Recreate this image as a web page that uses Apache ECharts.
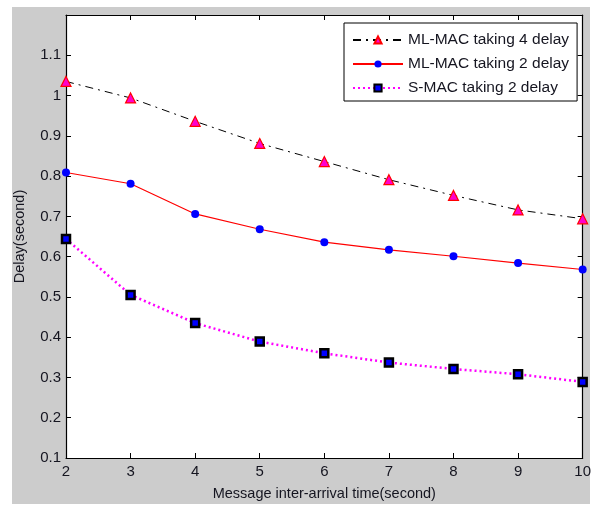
<!DOCTYPE html>
<html><head><meta charset="utf-8">
<script src="https://cdn.jsdelivr.net/npm/echarts@6/dist/echarts.min.js"></script>
<style>html,body{margin:0;padding:0;background:#fff}#c{width:594px;height:506px}</style>
</head><body><div id="c"></div>
<script>
const xValues = [2, 3, 4, 5, 6, 7, 8, 9, 10];
const mlmac4 = [1.035, 0.994, 0.936, 0.881, 0.836, 0.791, 0.752, 0.716, 0.694];
const mlmac2 = [0.809, 0.781, 0.706, 0.668, 0.636, 0.617, 0.601, 0.584, 0.568];
const smac2 = [0.644, 0.505, 0.435, 0.389, 0.36, 0.337, 0.321, 0.308, 0.289];
const seriesNames = ['ML-MAC taking 4 delay', 'ML-MAC taking 2 delay', 'S-MAC taking 2 delay'];
const xTitle = 'Message inter-arrival time(second)';
const yTitle = 'Delay(second)';

const pairs = a => xValues.map((x, i) => [x, a[i]]);
const font = 'Arial, "Liberation Sans", sans-serif';
const txt = '#151520';
const chart = echarts.init(document.getElementById('c'), null, {renderer: 'canvas'});
const baseAxis = {
  axisLine: {show: true, onZero: false, lineStyle: {color: '#000', width: 1.2}},
  axisTick: {show: true, inside: true, length: 5, lineStyle: {color: '#000'}},
  splitLine: {show: false}
};
chart.setOption({
  animation: false,
  backgroundColor: '#fff',
  graphic: [{type: 'rect', z: -10, shape: {x: 12, y: 7, width: 578, height: 497}, style: {fill: '#cccccc'}}],
  grid: {left: 66, right: 11, top: 15, bottom: 47, show: true, backgroundColor: '#fff', borderWidth: 0},
  legend: {
    orient: 'vertical', left: 344, top: 23, width: 231,
    backgroundColor: '#fff', borderColor: '#000', borderWidth: 1,
    padding: [9, 8, 5, 8], itemGap: 8, itemWidth: 50, itemHeight: 9,
    textStyle: {fontFamily: font, fontSize: 15.5, color: txt},
    data: seriesNames
  },
  xAxis: [
    Object.assign({}, baseAxis, {
      type: 'value', min: 2, max: 10, interval: 1, position: 'bottom',
      name: xTitle, nameLocation: 'middle', nameGap: 28,
      nameTextStyle: {fontFamily: font, fontSize: 14.5, color: txt},
      axisLabel: {fontFamily: font, fontSize: 15, color: txt, margin: 6}
    }),
    Object.assign({}, baseAxis, {
      type: 'value', min: 2, max: 10, interval: 1, position: 'top',
      axisLabel: {show: false}
    })
  ],
  yAxis: [
    Object.assign({}, baseAxis, {
      type: 'value', min: 0.1, max: 1.2, interval: 0.1, position: 'left',
      name: yTitle, nameLocation: 'middle', nameGap: 39,
      nameTextStyle: {fontFamily: font, fontSize: 14.5, color: txt},
      axisLabel: {fontFamily: font, fontSize: 15, color: txt, margin: 5,
        formatter: v => v > 1.15 ? '' : String(Math.round(v * 10) / 10)}
    }),
    Object.assign({}, baseAxis, {
      type: 'value', min: 0.1, max: 1.2, interval: 0.1, position: 'right',
      axisLabel: {show: false}
    })
  ],
  series: [
    {
      name: seriesNames[0], type: 'line', data: pairs(mlmac4),
      symbol: 'triangle', symbolSize: 10,
      itemStyle: {color: '#ff00cc', borderColor: '#ff0000', borderWidth: 1.2},
      lineStyle: {color: '#000', width: 1, type: [8, 5, 2, 5]}
    },
    {
      name: seriesNames[1], type: 'line', data: pairs(mlmac2),
      symbol: 'circle', symbolSize: 8,
      itemStyle: {color: '#0000ff', borderColor: '#0000ff', borderWidth: 0},
      lineStyle: {color: '#ff0000', width: 1.2, type: 'solid'}
    },
    {
      name: seriesNames[2], type: 'line', data: pairs(smac2),
      symbol: 'rect', symbolSize: 8,
      itemStyle: {color: '#0000ff', borderColor: '#000', borderWidth: 2.5},
      lineStyle: {color: '#ff00ff', width: 2.5, type: [2, 3]}
    }
  ]
});
</script></body></html>
